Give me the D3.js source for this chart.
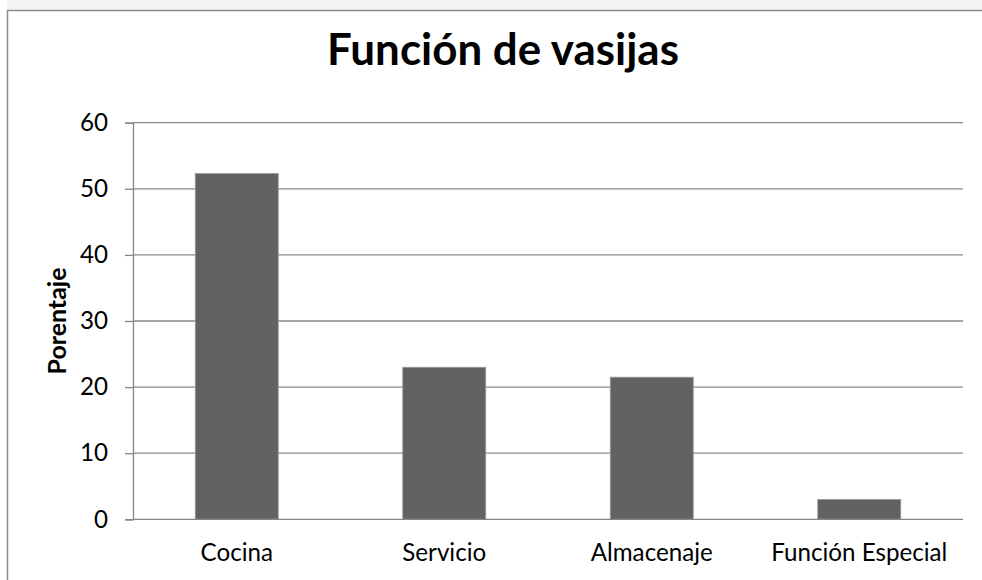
<!DOCTYPE html>
<html>
<head>
<meta charset="utf-8">
<script src="https://cdn.jsdelivr.net/npm/d3@7/dist/d3.min.js"></script>
<style>
  html, body { margin: 0; padding: 0; background: #ffffff; }
  svg { display: block; }
  text { font-family: Lato, "Open Sans", "Liberation Sans", sans-serif; fill: #000; }
</style>
</head>
<body>
<svg id="chart" width="982" height="580"></svg>
<script>
// ---- data ----
const chartTitle = "Función de vasijas";
const yAxisTitle = "Porentaje";
const categories = ["Cocina", "Servicio", "Almacenaje", "Función Especial"];
const values = [52.3, 23.0, 21.5, 3.0];
const yTicks = [0, 10, 20, 30, 40, 50, 60];

// ---- layout ----
const W = 982, H = 580;
const plot = { left: 133, right: 963, top: 122.7, bottom: 519.3 };
const svg = d3.select("#chart");

// watermark-ish light band above the chart frame
svg.append("rect").attr("x", 0).attr("y", 0).attr("width", W).attr("height", 10)
  .attr("fill", "#f4f4f4");
svg.append("rect").attr("x", 0).attr("y", 0).attr("width", 7).attr("height", H)
  .attr("fill", "#ffffff");

// chart frame (right and bottom edges lie outside the picture)
svg.append("rect").attr("x", 7.5).attr("y", 10.5).attr("width", W + 20).attr("height", H + 20)
  .attr("fill", "#ffffff").attr("stroke", "#8c8c8c").attr("stroke-width", 1.5);

const x = d3.scaleBand().domain(categories).range([plot.left, plot.right])
  .paddingInner(0.6).paddingOuter(0.3);
const y = d3.scaleLinear().domain([0, 60]).range([plot.bottom, plot.top]);

// gridlines
svg.append("g").selectAll("line").data(yTicks.filter(d => d > 0)).join("line")
  .attr("x1", plot.left).attr("x2", plot.right)
  .attr("y1", d => y(d)).attr("y2", d => y(d))
  .attr("stroke", "#8a8a8a").attr("stroke-width", 1.3);

// bars
svg.append("g").selectAll("rect").data(values).join("rect")
  .attr("x", (d, i) => x(categories[i]))
  .attr("width", x.bandwidth())
  .attr("y", d => y(d))
  .attr("height", d => y(0) - y(d))
  .attr("fill", "#626262")
  .attr("stroke", "#9a9a9a").attr("stroke-width", 0.8);

// y axis
const yAxis = d3.axisLeft(y).tickValues(yTicks).tickSize(8).tickPadding(17).tickFormat(d3.format("d"));
const gy = svg.append("g").attr("transform", `translate(${plot.left},0)`).call(yAxis);
gy.select(".domain").attr("stroke", "#868686").attr("stroke-width", 1.3);
gy.selectAll(".tick line").attr("stroke", "#868686").attr("stroke-width", 1.3);
gy.selectAll(".tick text").attr("font-size", 21).attr("fill", "#000")
  .style("font-family", "Lato, 'Open Sans', sans-serif");

// x axis
const xAxis = d3.axisBottom(x).tickSize(0).tickPadding(0);
const gx = svg.append("g").attr("transform", `translate(0,${plot.bottom})`).call(xAxis);
gx.select(".domain").attr("stroke", "#868686").attr("stroke-width", 1.3)
  .attr("d", `M${plot.left},0H${plot.right}`);
gx.selectAll(".tick text").attr("font-size", 21).attr("fill", "#000")
  .attr("dy", null).attr("y", 42)
  .style("font-family", "Lato, 'Open Sans', sans-serif");

// fit category label size so "Función Especial" is ~176px wide
(function fitCats() {
  const nodes = gx.selectAll(".tick text").nodes();
  const last = nodes[nodes.length - 1];
  const w = last.getComputedTextLength();
  const fs = 21 * 176 / w;
  gx.selectAll(".tick text").attr("font-size", fs);
  gy.selectAll(".tick text").attr("font-size", fs);
})();

// title
const title = svg.append("text").attr("x", 503).attr("y", 65)
  .attr("text-anchor", "middle").attr("font-weight", "bold").attr("font-size", 36)
  .text(chartTitle);
(function fitTitle() {
  const w = title.node().getComputedTextLength();
  title.attr("font-size", 36 * 352 / w);
})();

// y axis title
const yt = svg.append("text")
  .attr("transform", `translate(66,${(plot.top + plot.bottom) / 2}) rotate(-90)`)
  .attr("text-anchor", "middle").attr("font-weight", "bold").attr("font-size", 19)
  .text(yAxisTitle);
(function fitYT() {
  const w = yt.node().getComputedTextLength();
  yt.attr("font-size", 19 * 107 / w);
})();
</script>
</body>
</html>
